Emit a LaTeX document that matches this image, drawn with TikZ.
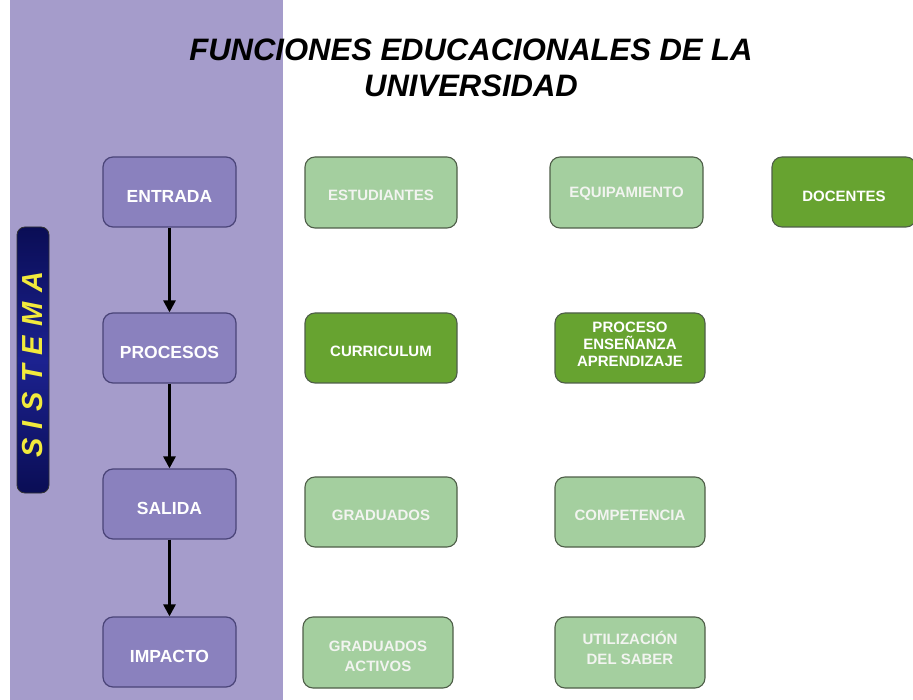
\documentclass[tikz,border=0pt]{standalone}
\usepackage{xcolor}
\usepackage{fontspec}
\setmainfont{Liberation Sans}
\usepackage{tikz}
\usetikzlibrary{arrows.meta,positioning,backgrounds}

\definecolor{panel}{HTML}{A59CCB}
\definecolor{lila}{HTML}{8A81BE}
\definecolor{lilaborde}{HTML}{4A4478}
\definecolor{verdeclaro}{HTML}{A4CF9F}
\definecolor{verdeoscuro}{HTML}{67A330}
\definecolor{verdeborde}{HTML}{4E5E48}
\definecolor{textoclaro}{HTML}{F2F4F0}
\definecolor{marino}{HTML}{0A0D55}
\definecolor{marinomedio}{HTML}{1C2290}
\definecolor{amarillo}{HTML}{F2EA3C}

\tikzset{
  fase/.style={draw=lilaborde,line width=1.2pt,fill=lila,rounded corners=10pt,
    minimum width=133pt,minimum height=70pt,text=white,text height=21.5pt,text depth=0pt,
    font=\bfseries\fontsize{17.5}{20}\selectfont},
  claro/.style={draw=verdeborde,line width=1.1pt,fill=verdeclaro,rounded corners=10pt,
    minimum width=152pt,minimum height=71pt,text=textoclaro,align=center,
    text height=17pt,text depth=0pt,
    font=\bfseries\fontsize{15}{20}\selectfont},
  oscuro/.style={claro,fill=verdeoscuro,text=white},
  flecha/.style={line width=2.8pt,-{Triangle[length=12pt,width=12pt]}}
}

\begin{document}
\begin{tikzpicture}[x=1pt,y=-1pt]
  \useasboundingbox (0,0) rectangle (913,700);
  \clip (0,0) rectangle (913,700);
  % 左侧紫色背景
  \fill[panel] (10,0) rectangle (283,700);
  % 标题
  \node[font=\bfseries\itshape\fontsize{31}{36}\selectfont,align=center] (titulo) at (471,68)
    {FUNCIONES EDUCACIONALES DE LA\\UNIVERSIDAD};
  % 竖条 SISTEMA
  \node[draw=black!80,line width=0.8pt,rounded corners=8pt,
        shading=axis,left color=marino,right color=marino,middle color=marinomedio,shading angle=0,
        minimum width=32pt,minimum height=266pt] (barra) at (33,360) {};
  \node[rotate=90,text=amarillo,font=\bfseries\itshape\fontsize{29}{30}\selectfont] (sistema) at (33,365)
    {S\kern9.5pt I\kern9.5pt S\kern9.5pt T\kern9.5pt E\kern9.5pt M\kern9.5pt A};
  % 四个阶段
  \node[fase] (entrada) at (169.5,192) {ENTRADA};
  \node[fase] (procesos) at (169.5,348) {PROCESOS};
  \node[fase] (salida) at (169.5,504) {SALIDA};
  \node[fase] (impacto) at (169.5,652) {IMPACTO};
  \draw[flecha] (entrada) -- (procesos);
  \draw[flecha] (procesos) -- (salida);
  \draw[flecha] (salida) -- (impacto);
  % 右侧各项
  \node[claro] (estudiantes) at (381,192.5) {ESTUDIANTES};
  \node[claro,minimum width=153pt,text height=10.7pt] (equipamiento) at (626.5,192.5) {EQUIPAMIENTO};
  \node[oscuro,minimum width=144pt,minimum height=70pt,text height=19.7pt] (docentes) at (844,192) {DOCENTES};
  \node[oscuro,minimum height=70pt] (curriculum) at (381,348) {CURRICULUM};
  \node[oscuro,minimum width=150pt,minimum height=70pt,text height=36.7pt,
        font=\bfseries\fontsize{15}{17}\selectfont] (ensenanza) at (630,348)
    {PROCESO\\ENSEÑANZA\\APRENDIZAJE};
  \node[claro,minimum height=70pt] (graduados) at (381,512) {GRADUADOS};
  \node[claro,minimum width=150pt,minimum height=70pt] (competencia) at (630,512) {COMPETENCIA};
  \node[claro,minimum width=150pt,text height=37.3pt] (activos) at (378,652.5) {GRADUADOS\\ACTIVOS};
  \node[claro,minimum width=150pt,text height=23.7pt] (utilizacion) at (630,652.5) {UTILIZACIÓN\\DEL SABER};
\end{tikzpicture}
\end{document}
